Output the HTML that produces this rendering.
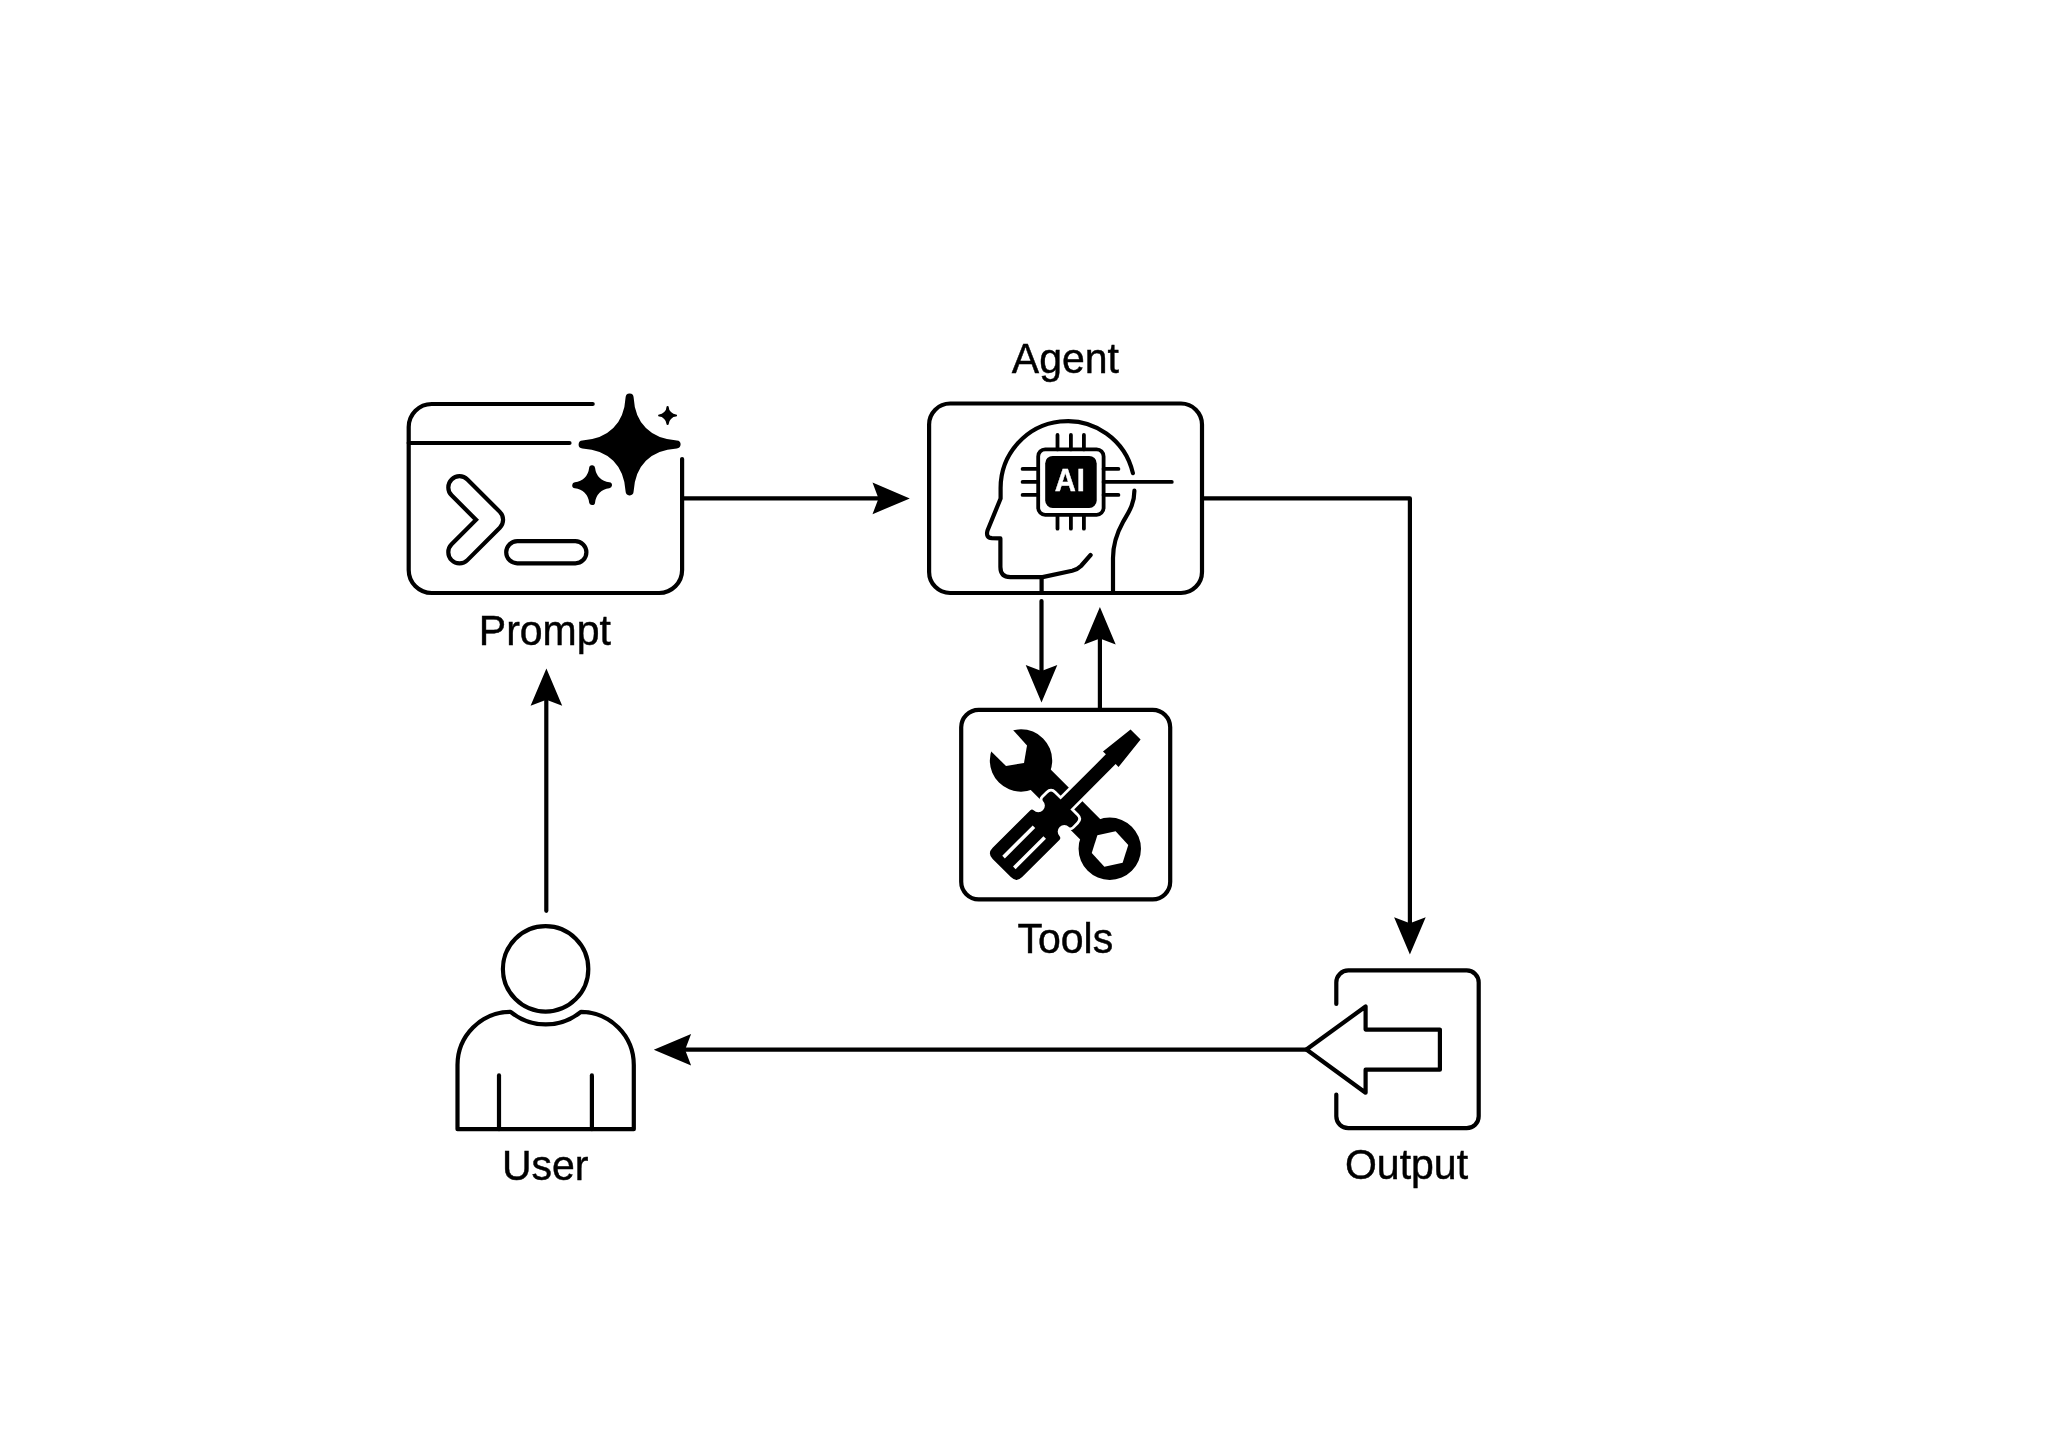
<!DOCTYPE html>
<html>
<head>
<meta charset="utf-8">
<style>
html,body{margin:0;padding:0;background:#fff;width:2048px;height:1445px;overflow:hidden;}
svg{display:block;filter:grayscale(100%);}
text{font-family:"Liberation Sans",sans-serif;}
</style>
</head>
<body>
<svg width="2048" height="1445" viewBox="0 0 2048 1445">
<rect x="0" y="0" width="2048" height="1445" fill="#fff"/>
<g fill="none" stroke="#000" stroke-width="4.2" stroke-linecap="round" stroke-linejoin="round">
<path d="M 592.7 404 L 431.7 404 A 23 23 0 0 0 408.7 427 L 408.7 570 A 23 23 0 0 0 431.7 593 L 659.1 593 A 23 23 0 0 0 682.1 570 L 682.1 459"/>
<line x1="408.7" y1="443" x2="569.5" y2="443"/>
<path d="M 459.5 487.4 L 491.9 519.8 L 459.5 552.2" stroke-width="26.6"/>
<path d="M 459.5 487.4 L 491.9 519.8 L 459.5 552.2" stroke="#fff" stroke-width="18.2"/>
<rect x="506.2" y="541.2" width="80.2" height="22.1" rx="11.05" ry="11.05"/>
</g>
<path d="M 629.6 397.4 C 631.1 425.6 648.4 442.9 676.6 444.4 C 648.4 445.9 631.1 463.2 629.6 491.4 C 628.1 463.2 610.8 445.9 582.6 444.4 C 610.8 442.9 628.1 425.6 629.6 397.4 Z" fill="#000" stroke="#000" stroke-width="8" stroke-linejoin="round"/>
<path d="M 592.1 468.3 C 593.1 477.59 599.71 484.2 609 485.2 C 599.71 486.2 593.1 492.81 592.1 502.1 C 591.1 492.81 584.5 486.2 575.2 485.2 C 584.5 484.2 591.1 477.59 592.1 468.3 Z" fill="#000" stroke="#000" stroke-width="6" stroke-linejoin="round"/>
<path d="M 667.6 407.1 C 667.6 411.3 671.8 415.5 676 415.5 C 671.8 415.5 667.6 419.7 667.6 423.9 C 667.6 419.7 663.4 415.5 659.2 415.5 C 663.4 415.5 667.6 411.3 667.6 407.1 Z" fill="#000" stroke="#000" stroke-width="2.2" stroke-linejoin="round"/>
<g fill="none" stroke="#000" stroke-width="4.2" stroke-linecap="round" stroke-linejoin="round">
<path d="M 950.1 403.5 L 1181 403.5 A 21 21 0 0 1 1202 424.5 L 1202 572 A 21 21 0 0 1 1181 593 L 950.1 593 A 21 21 0 0 1 929.1 572 L 929.1 424.5 A 21 21 0 0 1 950.1 403.5 Z"/>
<path d="M 1132.9 473.1 A 67 67 0 0 0 1000.6 488 L 1000.6 498.5 L 987.5 530.5 Q 985.5 537.8 992 538.2 L 1000.4 538.4 L 1000.4 567 Q 1000.4 577.1 1010.4 577.1 L 1042.5 577.1 L 1072.2 570.8 Q 1077.5 569.5 1081 566 L 1090.6 555"/>
<line x1="1041.6" y1="577.1" x2="1041.6" y2="593"/>
<path d="M 1134.4 490.7 C 1134.4 505 1128 513 1123 522 C 1118 531 1113 542 1113 558 L 1113 593"/>
<rect x="1038.2" y="449.4" width="65.4" height="65.4" rx="7" ry="7" stroke-width="3.8"/>
<line x1="1057.5" y1="435" x2="1057.5" y2="449.4" stroke-width="3.8"/>
<line x1="1057.5" y1="514.8" x2="1057.5" y2="528.7" stroke-width="3.8"/>
<line x1="1070.9" y1="435" x2="1070.9" y2="449.4" stroke-width="3.8"/>
<line x1="1070.9" y1="514.8" x2="1070.9" y2="528.7" stroke-width="3.8"/>
<line x1="1083.9" y1="435" x2="1083.9" y2="449.4" stroke-width="3.8"/>
<line x1="1083.9" y1="514.8" x2="1083.9" y2="528.7" stroke-width="3.8"/>
<line x1="1022.6" y1="468.9" x2="1038.2" y2="468.9" stroke-width="3.8"/>
<line x1="1103.6" y1="468.9" x2="1118.4" y2="468.9" stroke-width="3.8"/>
<line x1="1022.6" y1="481.9" x2="1038.2" y2="481.9" stroke-width="3.8"/>
<line x1="1103.6" y1="481.9" x2="1171.8" y2="481.9" stroke-width="3.8"/>
<line x1="1022.6" y1="494.9" x2="1038.2" y2="494.9" stroke-width="3.8"/>
<line x1="1103.6" y1="494.9" x2="1118.4" y2="494.9" stroke-width="3.8"/>
</g>
<rect x="1045.2" y="455.9" width="51.5" height="52" rx="7.5" ry="7.5" fill="#000"/>
<text transform="translate(1070.2,491.2) scale(1,1.06)" x="0" y="0" text-anchor="middle" font-size="29.2" font-weight="bold" letter-spacing="0.8" fill="#fff" stroke="#fff" stroke-width="0.4">AI</text>
<path d="M 978.7 709.8 L 1152.7 709.8 A 17.5 17.5 0 0 1 1170.2 727.3 L 1170.2 881.8 A 17.5 17.5 0 0 1 1152.7 899.3 L 978.7 899.3 A 17.5 17.5 0 0 1 961.2 881.8 L 961.2 727.3 A 17.5 17.5 0 0 1 978.7 709.8 Z" fill="none" stroke="#000" stroke-width="4.2"/>
<g transform="translate(1065.5,804.5) rotate(45)">
<rect x="-62.6" y="-14.3" width="125.2" height="28.6" fill="#000"/>
<circle cx="-62.6" cy="0.3" r="31.2" fill="#000"/>
<circle cx="62.6" cy="0" r="31.2" fill="#000"/>
</g>
<polygon points="975,735 991.5,751.8 1006,766 1024,763 1027,745.5 1013,730 998,715" fill="#fff"/>
<polygon points="1128.26,844.95 1122.63,862.79 1104.38,866.83 1091.74,853.05 1097.37,835.21 1115.62,831.17" fill="#fff"/>
<g transform="translate(1065.5,804.5) rotate(-45)">
<path d="M 99 -7 L 99 7.2 L 64 11 L 64 6.9 L 0 6.9 L 0 15.8 Q 0 20.3 -4.5 20.3 L -11 20.3 Q -13 20.3 -13.4 18.3 A 6.6 6.6 0 1 0 -26.6 18.3 Q -27 20.7 -29 20.7 L -82 20.7 Q -90 20.7 -90 12.7 L -90 -13 Q -90 -21 -82 -21 L -29 -20.7 Q -27 -20.7 -26.6 -18.5 A 6.6 6.6 0 1 0 -13.4 -18.5 Q -13 -20.5 -11 -20.5 L -4.5 -20.5 Q 0 -20.5 0 -16 L 0 -6.9 L 64 -6.9 L 64 -11 Z" fill="#000" stroke="#fff" stroke-width="5.6" stroke-linejoin="round"/>
<path d="M 99 -7 L 99 7.2 L 64 11 L 64 6.9 L 0 6.9 L 0 15.8 Q 0 20.3 -4.5 20.3 L -11 20.3 Q -13 20.3 -13.4 18.3 A 6.6 6.6 0 1 0 -26.6 18.3 Q -27 20.7 -29 20.7 L -82 20.7 Q -90 20.7 -90 12.7 L -90 -13 Q -90 -21 -82 -21 L -29 -20.7 Q -27 -20.7 -26.6 -18.5 A 6.6 6.6 0 1 0 -13.4 -18.5 Q -13 -20.5 -11 -20.5 L -4.5 -20.5 Q 0 -20.5 0 -16 L 0 -6.9 L 64 -6.9 L 64 -11 Z" fill="#000"/>
<rect x="-81" y="-8.4" width="43" height="3.6" fill="#fff"/>
<rect x="-81" y="6.8" width="43" height="3.6" fill="#fff"/>
</g>
<g fill="none" stroke="#000" stroke-width="4.2" stroke-linecap="round" stroke-linejoin="round">
<path d="M 1336.3 1004 L 1336.3 982.4 A 12 12 0 0 1 1348.3 970.4 L 1466.7 970.4 A 12 12 0 0 1 1478.7 982.4 L 1478.7 1116.2 A 12 12 0 0 1 1466.7 1128.2 L 1348.3 1128.2 A 12 12 0 0 1 1336.3 1116.2 L 1336.3 1094.5"/>
<path d="M 1306.4 1049.5 L 1365.6 1006.5 L 1365.6 1029.6 L 1439.9 1029.6 L 1439.9 1069.7 L 1365.6 1069.7 L 1365.6 1092.7 Z" stroke-linejoin="round"/>
</g>
<g fill="none" stroke="#000" stroke-width="4.2" stroke-linecap="round" stroke-linejoin="round">
<circle cx="545.6" cy="968.9" r="42.7"/>
<path d="M 457.5 1129.2 L 457.5 1065.1 A 53.3 53.3 0 0 1 510.6 1011.8 A 55.2 55.2 0 0 0 580.9 1011.8 A 53.3 53.3 0 0 1 633.8 1065.1 L 633.8 1129.2 Z" stroke-linejoin="round" stroke-linecap="butt"/>
<line x1="499" y1="1075.4" x2="499" y2="1129.2"/>
<line x1="591.9" y1="1075.4" x2="591.9" y2="1129.2"/>
</g>
<g fill="none" stroke="#000" stroke-width="4.2" stroke-linecap="round" stroke-linejoin="round">
<line x1="682.1" y1="498.4" x2="892" y2="498.4" stroke-linecap="butt"/>
<path d="M 1202 498.4 L 1409.9 498.4 L 1409.9 937" stroke-linecap="butt"/>
<line x1="1041.5" y1="601" x2="1041.5" y2="685" stroke-linecap="round"/>
<line x1="1099.9" y1="709.6" x2="1099.9" y2="625" stroke-linecap="butt"/>
<line x1="1306.4" y1="1049.6" x2="672" y2="1049.6" stroke-linecap="butt"/>
<line x1="546.3" y1="910.8" x2="546.3" y2="688" stroke-linecap="round"/>
</g>
<polygon points="909.8,498.4 872.5,514.2 878.5,498.4 872.5,482.6" fill="#000"/>
<polygon points="1409.9,954.5 1394.1,917.2 1409.9,923.2 1425.7,917.2" fill="#000"/>
<polygon points="1041.5,702.4 1025.7,665.1 1041.5,671.1 1057.3,665.1" fill="#000"/>
<polygon points="1099.9,607.1 1115.7,644.4 1099.9,638.4 1084.1,644.4" fill="#000"/>
<polygon points="653.8,1049.7 691.1,1033.9 685.1,1049.7 691.1,1065.5" fill="#000"/>
<polygon points="546.4,668.5 562.2,705.8 546.4,699.8 530.6,705.8" fill="#000"/>
<text transform="translate(1065.4,372.9) scale(1,1.02)" x="0" y="0" text-anchor="middle" font-size="41" fill="#000" stroke="#000" stroke-width="0.45">Agent</text>
<text transform="translate(544.9,644.7) scale(1,1.02)" x="0" y="0" text-anchor="middle" font-size="41" fill="#000" stroke="#000" stroke-width="0.45">Prompt</text>
<text transform="translate(1065.3,952.8) scale(1,1.02)" x="0" y="0" text-anchor="middle" font-size="41" fill="#000" stroke="#000" stroke-width="0.45">Tools</text>
<text transform="translate(545.2,1179.5) scale(1,1.02)" x="0" y="0" text-anchor="middle" font-size="41" fill="#000" stroke="#000" stroke-width="0.45">User</text>
<text transform="translate(1406.5,1179.3) scale(1,1.02)" x="0" y="0" text-anchor="middle" font-size="41" fill="#000" stroke="#000" stroke-width="0.45">Output</text>
</svg>
</body>
</html>
